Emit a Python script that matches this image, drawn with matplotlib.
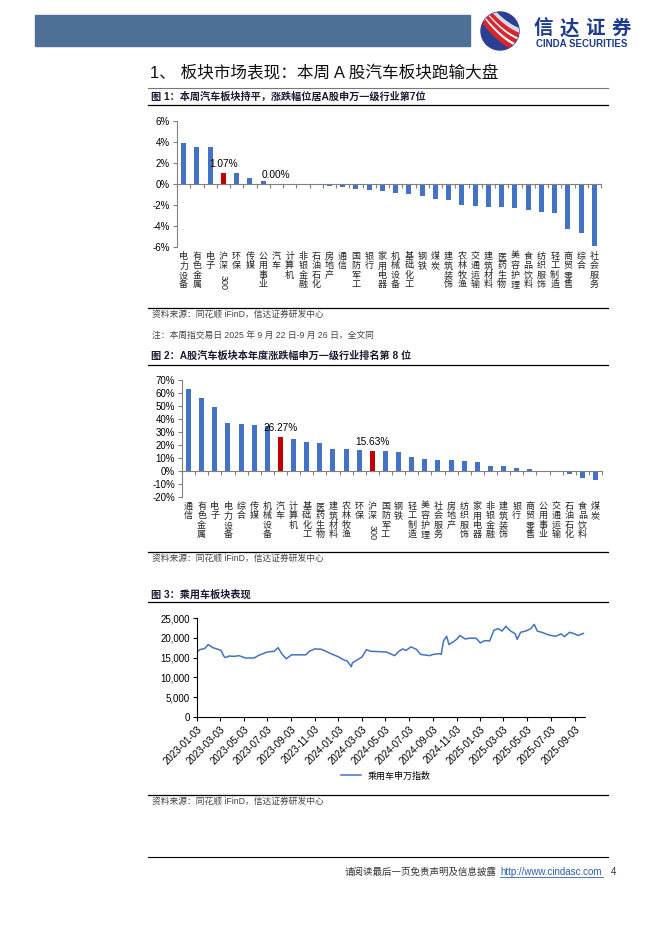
import matplotlib
matplotlib.use('Agg')
import matplotlib.pyplot as plt
import matplotlib.transforms as mtransforms
from matplotlib.patches import Rectangle, Circle
from matplotlib.lines import Line2D
from matplotlib.ticker import MultipleLocator, FuncFormatter
import numpy as np
import pandas as pd

plt.rcParams['font.family'] = ['Liberation Sans', 'Noto Sans CJK SC']
plt.rcParams['axes.unicode_minus'] = False

# 图1：本周涨跌幅 (%)
cats1 = ['电力设备', '有色金属', '电子', '沪深300', '环保', '传媒', '公用事业', '汽车',
         '计算机', '非银金融', '石油石化', '房地产', '通信', '国防军工', '银行', '家用电器',
         '机械设备', '基础化工', '钢铁', '煤炭', '建筑装饰', '农林牧渔', '交通运输', '建筑材料',
         '医药生物', '美容护理', '食品饮料', '纺织服饰', '轻工制造', '商贸零售', '综合', '社会服务']
vals1 = [3.90, 3.48, 3.48, 1.07, 1.05, 0.60, 0.25, 0.00,
         -0.03, -0.12, -0.12, -0.15, -0.25, -0.45, -0.55, -0.65,
         -0.83, -0.93, -1.10, -1.40, -1.53, -1.98, -2.10, -2.17,
         -2.20, -2.27, -2.52, -2.65, -2.75, -4.30, -4.66, -5.90]

# 图2：本年度涨跌幅 (%)
cats2 = ['通信', '有色金属', '电子', '电力设备', '综合', '传媒', '机械设备', '汽车',
         '计算机', '基础化工', '医药生物', '建筑材料', '农林牧渔', '环保', '沪深300', '国防军工',
         '钢铁', '轻工制造', '美容护理', '社会服务', '房地产', '纺织服饰', '家用电器', '非银金融',
         '建筑装饰', '银行', '商贸零售', '公用事业', '交通运输', '石油石化', '食品饮料', '煤炭']
vals2 = [63.1, 56.2, 49.2, 37.2, 36.2, 35.4, 34.6, 26.27,
         24.6, 22.3, 21.5, 16.9, 16.9, 15.9, 15.63, 15.4,
         14.6, 10.5, 9.2, 8.5, 8.5, 7.7, 6.9, 3.6,
         3.6, 2.6, 1.8, -0.3, -1.0, -2.6, -5.6, -6.9]

highlight = ['汽车', '沪深300']

# 图3：乘用车申万指数
dates3 = ['2023-01-03', '2023-01-10', '2023-01-23', '2023-02-01', '2023-02-13', '2023-03-01',
          '2023-03-06', '2023-03-13', '2023-03-17', '2023-03-27', '2023-04-10', '2023-04-21',
          '2023-05-08', '2023-05-30', '2023-06-12', '2023-07-03', '2023-07-21', '2023-07-31',
          '2023-08-11', '2023-08-21', '2023-09-04', '2023-09-20', '2023-10-11', '2023-10-20',
          '2023-11-03', '2023-11-20', '2023-12-01', '2023-12-19', '2024-01-03', '2024-01-15',
          '2024-01-26', '2024-02-05', '2024-02-08', '2024-02-22', '2024-03-04', '2024-03-15',
          '2024-03-26', '2024-04-17', '2024-05-06', '2024-05-27', '2024-06-07', '2024-06-17',
          '2024-06-25', '2024-07-08', '2024-07-22', '2024-08-02', '2024-08-26', '2024-09-03',
          '2024-09-20', '2024-09-24', '2024-09-30', '2024-10-08', '2024-10-14', '2024-10-24',
          '2024-11-04', '2024-11-11', '2024-11-25', '2024-12-06', '2024-12-23', '2025-01-03',
          '2025-01-14', '2025-01-27', '2025-02-07', '2025-02-18', '2025-02-28', '2025-03-10',
          '2025-03-21', '2025-04-03', '2025-04-08', '2025-04-17', '2025-04-30', '2025-05-13',
          '2025-05-22', '2025-05-30', '2025-06-13', '2025-06-26', '2025-07-04', '2025-07-17',
          '2025-07-30', '2025-08-08', '2025-08-21', '2025-09-03', '2025-09-12', '2025-09-26']
idx3 = [16400, 17000, 17300, 18300, 17500, 17000,
        16800, 15400, 15000, 15400, 15300, 15500,
        14900, 14900, 15600, 16400, 16600, 17500,
        15800, 14700, 15700, 15700, 15700, 16600,
        17200, 17100, 16600, 15800, 15200, 14500,
        14100, 12700, 13700, 14500, 15200, 17000,
        16600, 16500, 16400, 15500, 16600, 17200,
        16800, 17700, 17100, 15800, 15500, 15800,
        16000, 15800, 19200, 20400, 18300, 18900,
        19700, 20600, 19700, 19900, 19900, 18700,
        19300, 19200, 21900, 22300, 21700, 22900,
        21800, 21000, 19600, 21400, 21700, 22300,
        23400, 21700, 21300, 20800, 20600, 20400,
        21000, 20300, 21400, 21000, 20600, 21100]

W, H = 662, 936
fig = plt.figure(figsize=(6.62, 9.36), dpi=100)


def fx(x):
    return x / W


def fy(y):
    return 1 - y / H


def rect_px(l, t, r, b):
    return [fx(l), fy(b), (r - l) / W, (b - t) / H]


def hline(y, x0=148, x1=608, color='black', lw=0.9):
    fig.add_artist(Line2D([fx(x0), fx(x1)], [fy(y), fy(y)], color=color, lw=lw))


# 页眉
fig.patches.append(Rectangle((fx(35), fy(46)), (470 - 35) / W, 31 / H,
                             transform=fig.transFigure, color='#4e7097'))
logo = fig.add_axes(rect_px(479, 11, 521, 51))
logo.set_xlim(-1, 1)
logo.set_ylim(-1, 1)
logo.set_aspect('equal')
logo.axis('off')
circ = Circle((0, 0), 0.95, color='#2b3f95')
logo.add_patch(circ)
t = np.linspace(-1.2, 1.2, 100)
for off, c, w in [(0.55, '#d9d9e8', 5), (0.35, '#d7262e', 4), (0.15, 'white', 2.5),
                  (-0.02, '#d7262e', 4), (-0.2, 'white', 2.5), (-0.38, '#d7262e', 3.5)]:
    ln, = logo.plot(t, -0.85 * t + off + 0.25 * t ** 2, color=c, lw=w, solid_capstyle='butt')
    ln.set_clip_path(circ)
for i, ch in enumerate('信达证券'):
    fig.text(fx(543 + i * 26), fy(29), ch, fontsize=14, fontweight='bold',
             color='#1d3c8f', ha='center', va='center')
fig.text(fx(582), fy(44), 'CINDA SECURITIES', fontsize=7, fontweight='bold',
         color='#1d3c8f', ha='center', va='center')

# 标题
fig.text(fx(150), fy(73), '1、 板块市场表现：本周 A 股汽车板块跑输大盘', fontsize=12,
         ha='left', va='center', color='#111111')
hline(88, color='#777777', lw=0.8)

src = '资料来源：同花顺 iFinD，信达证券研发中心'
title_kw = dict(fontsize=7.3, fontweight='bold', ha='left', va='center', color='#1a1a33')
src_kw = dict(fontsize=6.3, ha='left', va='center', color='#444444')


def stack_labels(ax, cats, top_px):
    trans = mtransforms.blended_transform_factory(ax.transData, ax.transAxes)
    bbox = ax.get_position()
    y_axes = -(top_px / H) / bbox.height
    for i, name in enumerate(cats):
        han = ''.join(ch for ch in name if not ch.isdigit())
        num = ''.join(ch for ch in name if ch.isdigit())
        ax.text(i, y_axes, '\n'.join(han), transform=trans, ha='center', va='top',
                fontsize=6.5, linespacing=1.05, color='#222222')
        if num:
            tr2 = mtransforms.offset_copy(trans, fig=fig, x=0, y=-len(han) * 8.2, units='points')
            ax.text(i, y_axes, num, transform=tr2, ha='center', va='top', rotation=270,
                    fontsize=6.5, color='#222222')


def bar_chart(rect, cats, vals, ylim, step, labels):
    ax = fig.add_axes(rect)
    x = np.arange(len(cats))
    colors = ['#C00000' if c in highlight else '#4472C4' for c in cats]
    ax.bar(x, vals, width=0.38, color=colors)
    ax.set_xlim(-0.5, len(cats) - 0.5)
    ax.set_ylim(*ylim)
    ax.yaxis.set_major_locator(MultipleLocator(step))
    ax.yaxis.set_major_formatter(FuncFormatter(lambda v, p: f'{v:.0f}%'))
    for s in ['top', 'right']:
        ax.spines[s].set_visible(False)
    ax.spines['bottom'].set_position(('data', 0))
    for s in ['bottom', 'left']:
        ax.spines[s].set_color('#808080')
        ax.spines[s].set_linewidth(0.8)
    ax.set_xticks(np.arange(-0.5, len(cats), 1.0))
    ax.tick_params(axis='x', length=3, color='#808080', labelbottom=False)
    ax.tick_params(axis='y', length=3, color='#808080', labelsize=7, pad=2)
    for name in labels:
        i = cats.index(name)
        ax.annotate(f'{vals[i]:.2f}%', (i, max(vals[i], 0)), xytext=(0, 3),
                    textcoords='offset points', ha='center', va='bottom', fontsize=7.3)
    return ax


# 图1
fig.text(fx(151), fy(97), '图 1：本周汽车板块持平，涨跌幅位居A股申万一级行业第7位', **title_kw)
hline(105)
ax1 = bar_chart(rect_px(177, 121, 601, 247), cats1, vals1, (-6, 6), 2, ['沪深300', '汽车'])
stack_labels(ax1, cats1, 5)
hline(308)
fig.text(fx(152), fy(314), src, **src_kw)
fig.text(fx(152), fy(336), '注：本周指交易日 2025 年 9 月 22 日-9 月 26 日，全文同', **src_kw)

# 图2
fig.text(fx(151), fy(356), '图 2：A股汽车板块本年度涨跌幅申万一级行业排名第 8 位', **title_kw)
hline(365)
ax2 = bar_chart(rect_px(182, 380, 602, 497), cats2, vals2, (-20, 70), 10, ['汽车', '沪深300'])
stack_labels(ax2, cats2, 5)
hline(552)
fig.text(fx(152), fy(558), src, **src_kw)

# 图3
fig.text(fx(151), fy(595), '图 3：乘用车板块表现', **title_kw)
hline(602)
ax3 = fig.add_axes(rect_px(197, 618, 585, 717))
d3 = pd.to_datetime(dates3)
ax3.plot(d3, idx3, color='#4472C4', lw=1.1, label='乘用车申万指数')
ax3.set_ylim(0, 25000)
ax3.yaxis.set_major_locator(MultipleLocator(5000))
ax3.yaxis.set_major_formatter(FuncFormatter(lambda v, p: f'{v:,.0f}'))
start = pd.Timestamp('2023-01-03')
ticks3 = [start + pd.DateOffset(months=2 * k) for k in range(17)]
ax3.set_xticks(ticks3)
ax3.set_xticklabels([t.strftime('%Y-%m-%d') for t in ticks3], rotation=45, ha='right',
                    rotation_mode='anchor', fontsize=7)
ax3.set_xlim(start, pd.Timestamp('2025-09-30'))
for s in ['top', 'right']:
    ax3.spines[s].set_visible(False)
for s in ['bottom', 'left']:
    ax3.spines[s].set_linewidth(0.8)
ax3.tick_params(axis='both', length=3, labelsize=7, pad=2)
ax3.legend(loc='center', bbox_to_anchor=(fx(386), fy(776)), bbox_transform=fig.transFigure,
           frameon=False, fontsize=6.5, handlelength=2.2)
hline(795)
fig.text(fx(152), fy(801), src, **src_kw)

# 页脚
hline(857, x0=148, x1=608, lw=0.8)
fig.text(fx(497), fy(872), '请阅读最后一页免责声明及信息披露', fontsize=6.8, ha='right',
         va='center', color='#333333')
fig.text(fx(500), fy(872), 'http://www.cindasc.com', fontsize=7, ha='left', va='center',
         color='#2e5fb5')
hline(877, x0=500, x1=603, color='#2e5fb5', lw=0.6)
fig.text(fx(611), fy(872), '4', fontsize=7, ha='left', va='center', color='#333333')

fig.savefig('out.png', dpi=100)
